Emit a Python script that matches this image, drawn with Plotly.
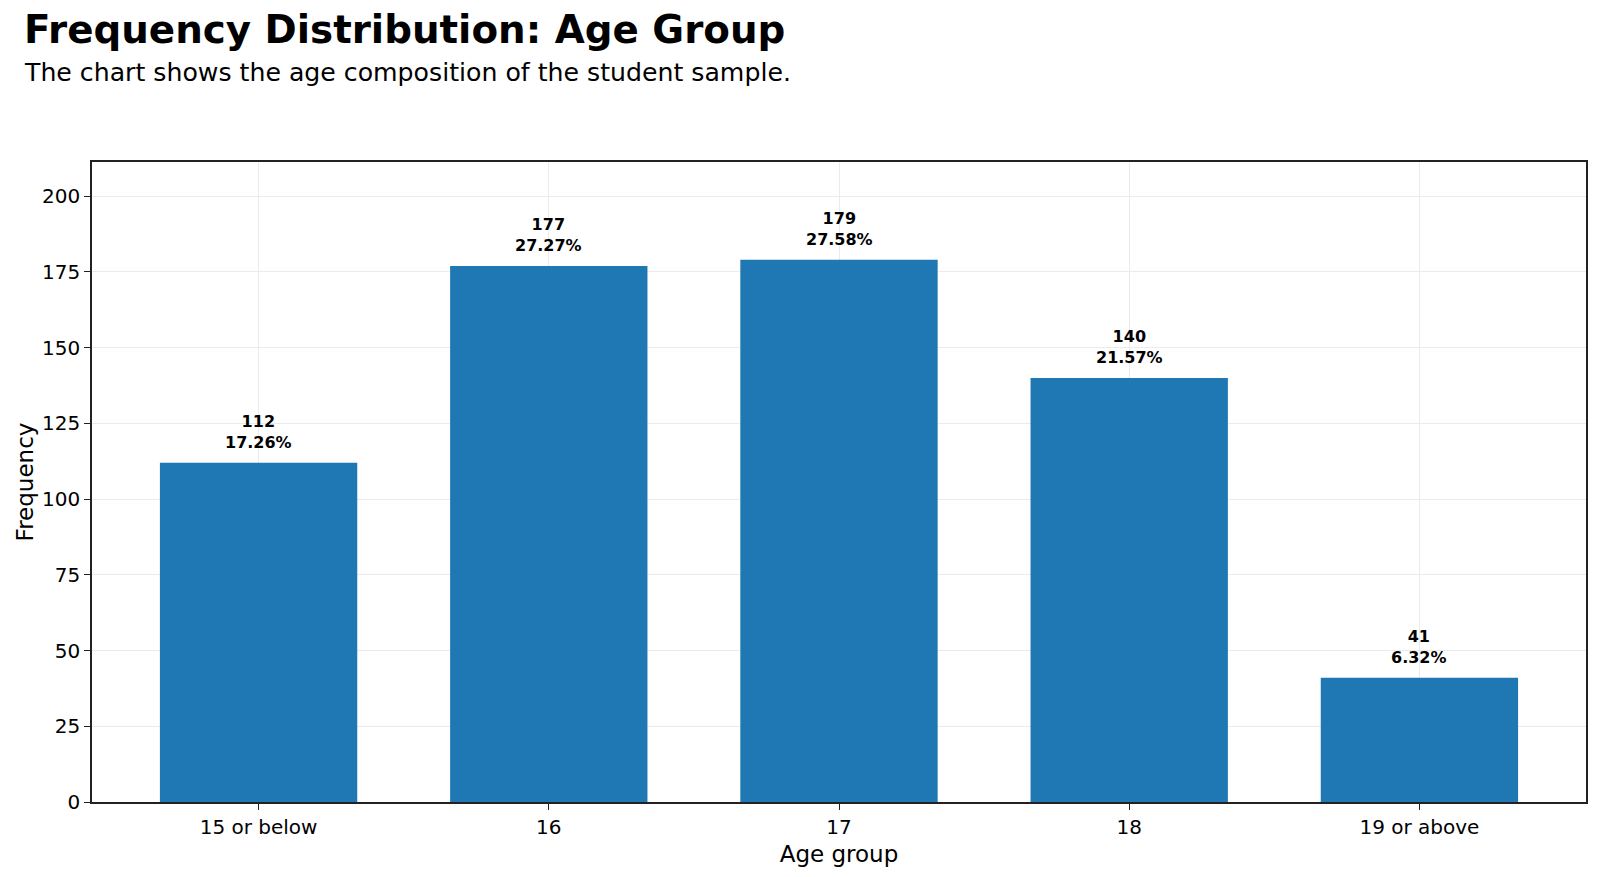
import plotly.graph_objects as go

categories = ["15 or below", "16", "17", "18", "19 or above"]
frequencies = [112, 177, 179, 140, 41]
y_ticks = [0, 25, 50, 75, 100, 125, 150, 175, 200]

total = sum(frequencies)
percents = [f / total * 100 for f in frequencies]
x_pos = list(range(len(categories)))

FONT = "DejaVu Sans"

fig = go.Figure()
fig.add_trace(go.Bar(
    x=x_pos, y=frequencies, width=0.68,
    marker=dict(color="#1f77b4", line=dict(width=0)),
    hoverinfo="skip",
))

for xi, f, p in zip(x_pos, frequencies, percents):
    fig.add_annotation(
        x=xi, y=f, text=f"<b>{f}</b><br><b>{p:.2f}%</b>",
        showarrow=False, yanchor="bottom", yshift=9,
        font=dict(family=FONT, size=16, color="black"),
    )

fig.update_layout(
    width=1600, height=877,
    paper_bgcolor="white", plot_bgcolor="white",
    margin=dict(l=92, r=12, t=162, b=75),
    showlegend=False,
    font=dict(family=FONT, color="black"),
    annotations=list(fig.layout.annotations) + [
        dict(text="<b>Frequency Distribution: Age Group</b>", xref="paper", yref="paper",
             x=(22 - 92) / 1496, y=1 + (162 - 30) / 640, xanchor="left", yanchor="middle",
             showarrow=False, font=dict(family=FONT, size=38.8, color="black")),
        dict(text="The chart shows the age composition of the student sample.", xref="paper", yref="paper",
             x=(22 - 92) / 1496, y=1 + (162 - 73) / 640, xanchor="left", yanchor="middle",
             showarrow=False, font=dict(family=FONT, size=25.2, color="black")),
    ],
)

fig.update_xaxes(
    range=[-0.574, 4.574], tickmode="array", tickvals=x_pos, ticktext=categories,
    showgrid=True, gridcolor="#ebebeb", gridwidth=1,
    showline=True, linecolor="#222222", linewidth=1.5, mirror=True,
    ticks="outside", ticklen=6, tickcolor="#222222", tickwidth=1,
    tickfont=dict(family=FONT, size=20, color="black"),
    title=dict(text="Age group", font=dict(family=FONT, size=23, color="black"), standoff=8),
    zeroline=False,
)
fig.update_yaxes(
    range=[0, 211.3], tickmode="array", tickvals=y_ticks,
    showgrid=True, gridcolor="#ebebeb", gridwidth=1,
    showline=True, linecolor="#222222", linewidth=1.5, mirror=True,
    ticks="outside", ticklen=6, tickcolor="#222222", tickwidth=1,
    tickfont=dict(family=FONT, size=20, color="black"),
    title=dict(text="Frequency", font=dict(family=FONT, size=23, color="black"), standoff=2),
    zeroline=False,
)

fig.write_html("out.html")
